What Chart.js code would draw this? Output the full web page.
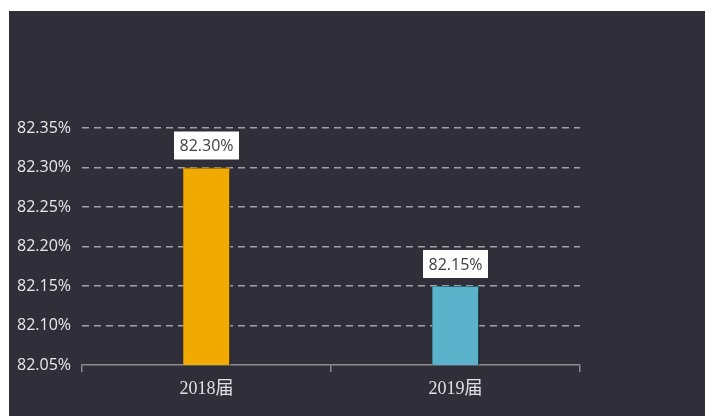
<!DOCTYPE html>
<html>
<head>
<meta charset="utf-8">
<script src="https://cdn.jsdelivr.net/npm/chart.js@4"></script>
<style>
  html, body { margin: 0; padding: 0; background: #fff; }
  #wrap { position: absolute; left: 9px; top: 11px; width: 696px; height: 405px; background: #302e39; }
</style>
</head>
<body>
<div id="wrap"><canvas id="rateChart" width="696" height="405"></canvas></div>
<script>
// data
const categories = ["2018届", "2019届"];
const rates = [82.30, 82.15];
const barColors = ["#f0aa00", "#5ab3cb"];
const barBorders = ["#d89500", "#3f90a6"];
const yTicks = [82.05, 82.10, 82.15, 82.20, 82.25, 82.30, 82.35];

// bar shadow
const shadowPlugin = {
  id: "shadow",
  beforeDatasetsDraw(chart) {
    const ctx = chart.ctx;
    ctx.save();
    ctx.shadowColor = "rgba(0,0,0,0.7)";
    ctx.shadowBlur = 6;
    ctx.shadowOffsetX = 5;
    ctx.shadowOffsetY = 0;
  },
  afterDatasetsDraw(chart) {
    chart.ctx.restore();
  },
};

// white value boxes above bars
const labelPlugin = {
  id: "valueBoxes",
  afterDatasetsDraw(chart) {
    const ctx = chart.ctx;
    const meta = chart.getDatasetMeta(0);
    ctx.save();
    ctx.font = '16px "Open Sans"';
    ctx.textAlign = "center";
    ctx.textBaseline = "middle";
    meta.data.forEach((bar, i) => {
      const txt = rates[i].toFixed(2) + "%";
      const w = 65, h = 28;
      const x = bar.x - w / 2;
      const y = bar.y - 8 - h;
      ctx.fillStyle = "#ffffff";
      ctx.fillRect(x, y, w, h);
      ctx.fillStyle = "#404040";
      ctx.fillText(txt, bar.x, y + h / 2 + 1);
    });
    ctx.restore();
  },
};

new Chart(document.getElementById("rateChart"), {
  type: "bar",
  data: {
    labels: categories,
    datasets: [
      {
        data: rates,
        backgroundColor: barColors,
        borderColor: barBorders,
        borderWidth: 1,
        categoryPercentage: 1,
        barPercentage: 0.19,
      },
    ],
  },
  options: {
    responsive: false,
    animation: false,
    layout: {
      padding: { left: 8, right: 125, top: 117, bottom: 0 },
    },
    plugins: {
      legend: { display: false },
      tooltip: { enabled: false },
    },
    scales: {
      y: {
        min: 82.05,
        max: 82.35,
        afterBuildTicks(scale) {
          scale.ticks = yTicks.map((v) => ({ value: v }));
        },
        afterFit(scale) {
          scale.width = 65;
        },
        border: { display: false, dash: [7, 5] },
        grid: {
          color: (c) => (c.index === 0 ? "rgba(0,0,0,0)" : "rgba(190,190,195,0.8)"),
          lineWidth: 1.5,
          drawTicks: false,
        },
        ticks: {
          crossAlign: "far",
          padding: 0,
          color: "#e8e8ea",
          font: { family: '"Open Sans"', size: 16 },
          callback: (v) => Number(v).toFixed(2) + "%",
        },
      },
      x: {
        afterFit(scale) {
          scale.height = 51;
        },
        border: { display: true, color: "#8c8c90", width: 1.5 },
        grid: {
          offset: true,
          drawOnChartArea: false,
          drawTicks: true,
          tickLength: 7,
          color: "#8c8c90",
          lineWidth: 1.5,
        },
        ticks: {
          padding: 6,
          color: "#e0e0e2",
          font: { family: '"Liberation Serif", "Noto Sans CJK SC"', size: 18 },
        },
      },
    },
  },
  plugins: [shadowPlugin, labelPlugin],
});
</script>
</body>
</html>
